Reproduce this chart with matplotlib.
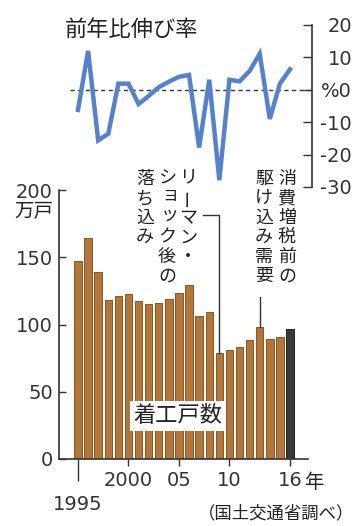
import matplotlib
matplotlib.use('Agg')
import matplotlib.pyplot as plt

# ---- data ----
years = list(range(1995, 2017))
starts = [147.0, 164.0, 138.7, 118.0, 121.5, 123.0, 117.3, 115.1, 116.0, 118.9,
          123.6, 129.0, 106.1, 109.3, 78.8, 81.3, 83.4, 88.3, 98.0, 89.2, 90.9, 96.7]
growth = [-6.2, 12.0, -15.6, -13.6, 1.9, 1.9, -4.4, -1.9, 0.8, 2.5,
          4.0, 4.6, -17.8, 3.1, -27.9, 3.1, 2.6, 5.8, 11.1, -9.0, 1.9, 6.3]
left_ticks = [0, 50, 100, 150, 200]
right_ticks = [-30, -20, -10, 0, 10, 20]
right_labels = ['-30', '-20', '-10', '%0', '10', '20']
x_major = [2000, 2005, 2010, 2016]
x_major_labels = ['2000', '05', '10', '16']
x_minor = [1995]
x_minor_labels = ['1995']

CJK = ['Noto Sans CJK JP', 'DejaVu Sans']
NUM = ['DejaVu Sans']
DARK = '#333333'

W, H = 357, 526
fig = plt.figure(figsize=(W / 100, H / 100), dpi=100)
fig.patch.set_facecolor('white')

def fx(px):
    return px / W

def fy(py):
    return 1 - py / H

ppy = (290 - 78) / 21.0
axb = fig.add_axes([fx(59), fy(459), (308 - 59) / W, (459 - 190) / H])
axt = fig.add_axes([fx(70), fy(187), (312 - 70) / W, (187 - 25) / H])
axb.set_xlim(1995 - (78 - 59) / ppy, 1995 + (308 - 78) / ppy)
axt.set_xlim(1995 - (78 - 70) / ppy, 1995 + (312 - 78) / ppy)

# ---- bar chart ----
colors = ['#b37638'] * (len(years) - 1) + ['#3a3a3a']
edges = ['#8a5424'] * (len(years) - 1) + ['#222222']
axb.bar(years, starts, width=0.74, color=colors, edgecolor=edges, linewidth=0.7, zorder=2)
axb.set_ylim(0, 200)
axb.set_yticks(left_ticks)
axb.set_yticklabels([str(t) for t in left_ticks], family=NUM, fontsize=14)
axb.tick_params(axis='y', direction='in', length=5, width=1, pad=4.5, colors=DARK)
axb.set_xticks(x_major)
axb.set_xticklabels(x_major_labels, family=NUM, fontsize=14)
axb.set_xticks(x_minor, labels=x_minor_labels, minor=True)
for lab in axb.get_xticklabels(minor=True):
    lab.set_fontfamily(NUM)
    lab.set_fontsize(14)
axb.tick_params(axis='x', which='major', direction='out', length=5, width=1, pad=4, colors=DARK)
axb.tick_params(axis='x', which='minor', direction='out', length=16, width=1, pad=10, colors=DARK)
for s in ['top', 'right']:
    axb.spines[s].set_visible(False)
for s in ['left', 'bottom']:
    axb.spines[s].set_color(DARK)
    axb.spines[s].set_linewidth(1.2)

# annotations
axb.text(1995 + (178 - 78) / ppy, 32, '着工戸数', family=CJK, fontsize=16, ha='center', va='center',
         color='#222222', zorder=5,
         bbox=dict(boxstyle='square,pad=0.15', facecolor='white', edgecolor='none'))
i09 = years.index(2009)
axb.plot([1995 + (203 - 78) / ppy, years[i09], years[i09]], [181.4, 181.4, starts[i09]],
         color=DARK, lw=1, clip_on=False, zorder=3)
i13 = years.index(2013)
axb.plot([years[i13], years[i13]], [120.5, starts[i13]], color=DARK, lw=1, clip_on=False, zorder=3)

# ---- growth line ----
axt.axhline(0, color=DARK, lw=1, ls=(0, (3, 2.5)), zorder=1)
axt.plot(years, growth, color='#5482cf', lw=3.2, solid_joinstyle='miter', zorder=3)
axt.set_ylim(-30, 20)
axt.patch.set_alpha(0)
for s in ['top', 'left', 'bottom']:
    axt.spines[s].set_visible(False)
axt.spines['right'].set_color(DARK)
axt.spines['right'].set_linewidth(1.2)
axt.set_xticks([])
axt.yaxis.tick_right()
axt.set_yticks(right_ticks)
axt.set_yticklabels(right_labels, family=NUM, fontsize=14)
axt.tick_params(axis='y', direction='in', length=6.5, width=1, pad=28.8, colors=DARK)
for lab in axt.yaxis.get_majorticklabels():
    lab.set_horizontalalignment('right')

# ---- texts ----
fig.text(fx(65), fy(29), '前年比伸び率', family=CJK, fontsize=16, ha='left', va='center', color='#222222')
fig.text(fx(53), fy(212), '万戸', family=CJK, fontsize=14, ha='right', va='center', color='#222222')
fig.text(fx(314), fy(482), '年', family=CJK, fontsize=14, ha='center', va='center', color='#222222')
fig.text(fx(354), fy(513), '（国土交通省調べ）', family=CJK, fontsize=12.5, ha='right', va='center', color='#222222')

def vtext(cx, top, s, size=13, step=19.5):
    for i, ch in enumerate(s):
        y = top + (i + 0.5) * step
        rot = 0
        dx = dy = 0
        if ch == 'ー':
            rot = 90
        if ch in 'ッョャュ':
            dx, dy = 3, -3
        fig.text(fx(cx + dx), fy(y + dy), ch, ha='center', va='center', rotation=rot,
                 family=CJK, fontsize=size, color='#222222')

vtext(188, 169, 'リーマン・')
vtext(167, 169, 'ショック後の')
vtext(145, 169, '落ち込み')
vtext(287, 169, '消費増税前の')
vtext(264, 169, '駆け込み需要')

fig.savefig('out.png', dpi=100)
